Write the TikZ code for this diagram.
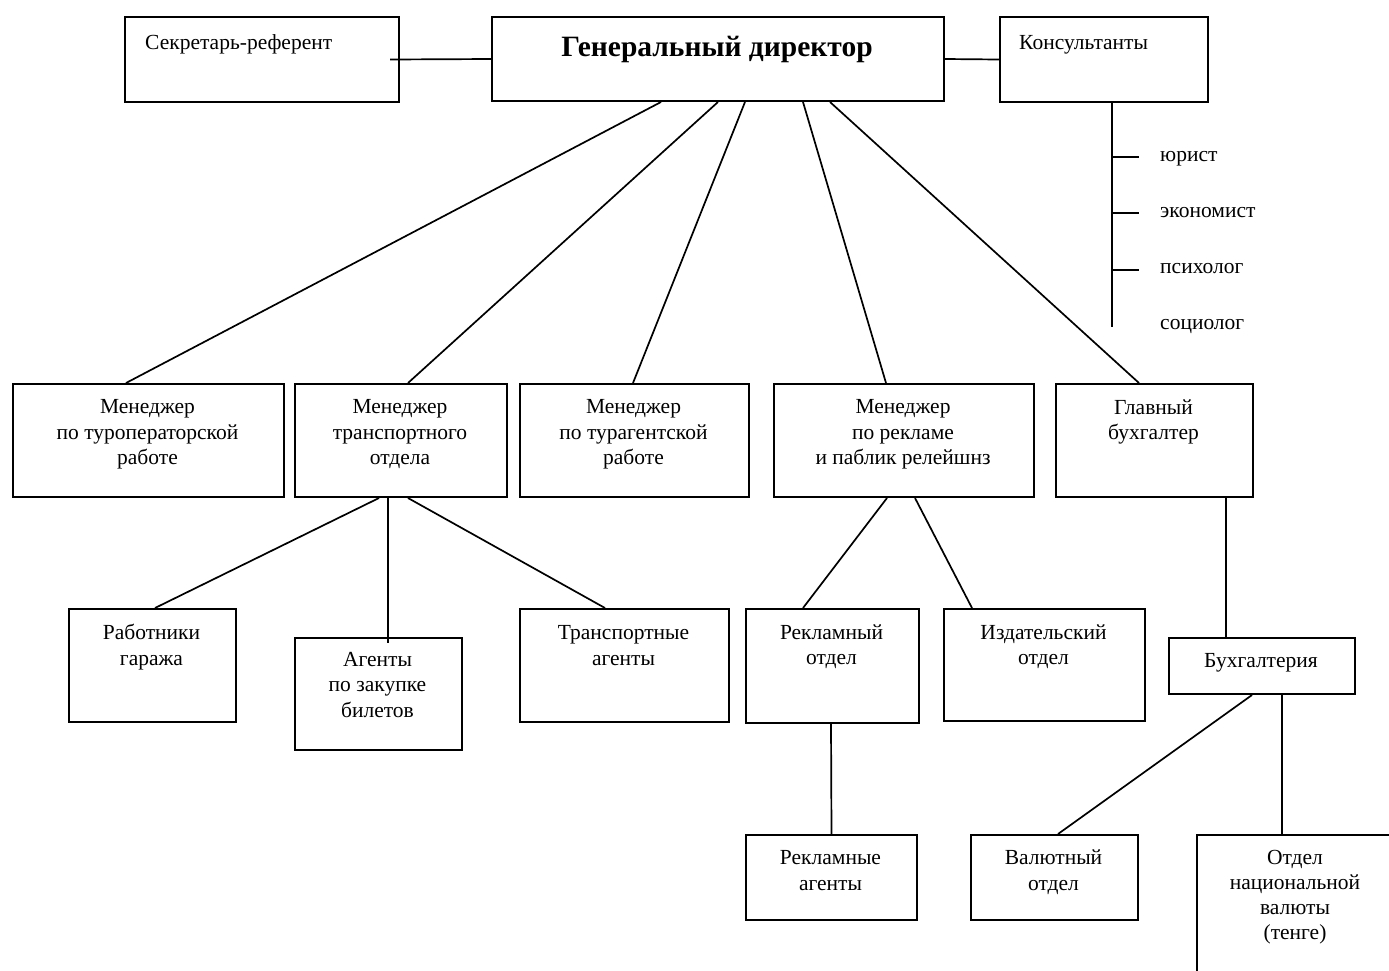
\documentclass[tikz,border=0pt]{standalone}
\usepackage{fontspec}
\setmainfont{Liberation Serif}
\begin{document}
\begin{tikzpicture}[x=1pt,y=-1pt,
  box/.style={draw, line width=2pt, inner sep=0pt, anchor=north west},
  conn/.style={line width=1.7pt},
  txt/.style={font=\fontsize{21.5}{25.5}\selectfont, align=center, anchor=base, inner sep=0pt},
]
\clip (0,0) rectangle (1389,970);
% top row
\node[box, minimum width=274pt, minimum height=85pt] (sec) at (124,16) {};
\node[txt, anchor=base west] (sect) at (145,49) {Секретарь-референт};
\node[box, minimum width=452pt, minimum height=84pt] (gd) at (491,16) {};
\node[txt, font=\fontsize{29.5}{34}\selectfont\bfseries] (gdt) at (717,56) {Генеральный директор};
\node[box, minimum width=208pt, minimum height=85pt] (kons) at (999,16) {};
\node[txt, anchor=base west] (konst) at (1019,49) {Консультанты};
\draw[conn] ([xshift=-10pt]sec.east) -- (gd.west);
\draw[conn] (gd.east) -- (kons.west);
% consultants list
\coordinate (vend) at (1112,327);
\coordinate (t1) at (1139,157);
\coordinate (t2) at (1139,213);
\coordinate (t3) at (1139,270);
\draw[conn] (vend |- kons.south) -- (vend);
\draw[conn] (t1 -| vend) -- (t1);
\draw[conn] (t2 -| vend) -- (t2);
\draw[conn] (t3 -| vend) -- (t3);
\node[txt, anchor=base west] (jur) at (1160,161) {юрист};
\node[txt, anchor=base west] (eco) at (1160,217) {экономист};
\node[txt, anchor=base west] (psy) at (1160,273) {психолог};
\node[txt, anchor=base west] (soc) at (1160,329) {социолог};
% managers
\node[box, minimum width=271pt, minimum height=113pt] (m1) at (12,383) {};
\node[box, minimum width=212pt, minimum height=113pt] (m2) at (294,383) {};
\node[box, minimum width=229pt, minimum height=113pt] (m3) at (519,383) {};
\node[box, minimum width=260pt, minimum height=113pt] (m4) at (773,383) {};
\node[box, minimum width=197pt, minimum height=113pt] (m5) at (1055,383) {};
\node[txt] (m1t) at (147.5,464.5) {Менеджер\\по туроператорской\\работе};
\node[txt] (m2t) at (400,464.5) {Менеджер\\транспортного\\отдела};
\node[txt] (m3t) at (633.5,464.5) {Менеджер\\по турагентской\\работе};
\node[txt] (m4t) at (903,464.5) {Менеджер\\по рекламе\\и паблик релейшнз};
\node[txt] (m5t) at (1153.5,439.5) {Главный\\бухгалтер};
\draw[conn] ([xshift=-57pt]gd.south) -- ([xshift=-22.5pt]m1.north);
\draw[conn] (gd.south) -- ([xshift=7pt]m2.north);
\draw[conn] ([xshift=27pt]gd.south) -- ([xshift=-1.5pt]m3.north);
\draw[conn] ([xshift=85pt]gd.south) -- ([xshift=-18pt]m4.north);
\draw[conn] ([xshift=112pt]gd.south) -- ([xshift=-15.5pt]m5.north);
% third row
\node[box, minimum width=167pt, minimum height=113pt] (rab) at (68,608) {};
\node[box, minimum width=167pt, minimum height=112pt] (ag) at (294,637) {};
\node[box, minimum width=209pt, minimum height=113pt] (tr) at (519,608) {};
\node[box, minimum width=173pt, minimum height=114pt] (rek) at (745,608) {};
\node[box, minimum width=201pt, minimum height=112pt] (izd) at (943,608) {};
\node[box, minimum width=186pt, minimum height=56pt] (buh) at (1168,637) {};
\node[txt] (rabt) at (151.5,665) {Работники\\гаража};
\node[txt] (agt) at (377.5,717) {Агенты\\по закупке\\билетов};
\node[txt] (trt) at (623.5,665) {Транспортные\\агенты};
\node[txt] (rekt) at (831.5,664.5) {Рекламный\\отдел};
\node[txt] (izdt) at (1043.5,664.5) {Издательский\\отдел};
\node[txt] (buht) at (1261,667) {Бухгалтерия};
\draw[conn] ([xshift=-22pt]m2.south) -- ([xshift=2.5pt]rab.north);
\draw[conn] ([xshift=-13pt]m2.south) -- ([xshift=9.5pt,yshift=-6pt]ag.north);
\draw[conn] ([xshift=7pt]m2.south) -- ([xshift=-19.5pt]tr.north);
\draw[conn] ([xshift=-17pt]m4.south) -- ([xshift=-29.5pt]rek.north);
\draw[conn] ([xshift=11pt]m4.south) -- ([xshift=-72.5pt]izd.north);
\draw[conn] ([xshift=71.5pt]m5.south) -- ([xshift=-36pt]buh.north);
% fourth row
\node[box, minimum width=171pt, minimum height=85pt] (rag) at (745,834) {};
\node[box, minimum width=167pt, minimum height=85pt] (val) at (970,834) {};
\node[box, minimum width=198pt, minimum height=170pt] (nat) at (1196,834) {};
\node[txt] (ragt) at (830.5,890) {Рекламные\\агенты};
\node[txt] (valt) at (1053.5,890) {Валютный\\отдел};
\node[txt, font=\fontsize{21.5}{25}\selectfont] (natt) at (1295,939.5) {Отдел\\национальной\\валюты\\(тенге)};
\draw[conn] ([xshift=-1.5pt]rek.south) -- (rag.north);
\draw[conn] ([xshift=-10pt]buh.south) -- ([xshift=3.5pt]val.north);
\draw[conn] ([xshift=20pt]buh.south) -- ([xshift=-14pt]nat.north);
\end{tikzpicture}
\end{document}
